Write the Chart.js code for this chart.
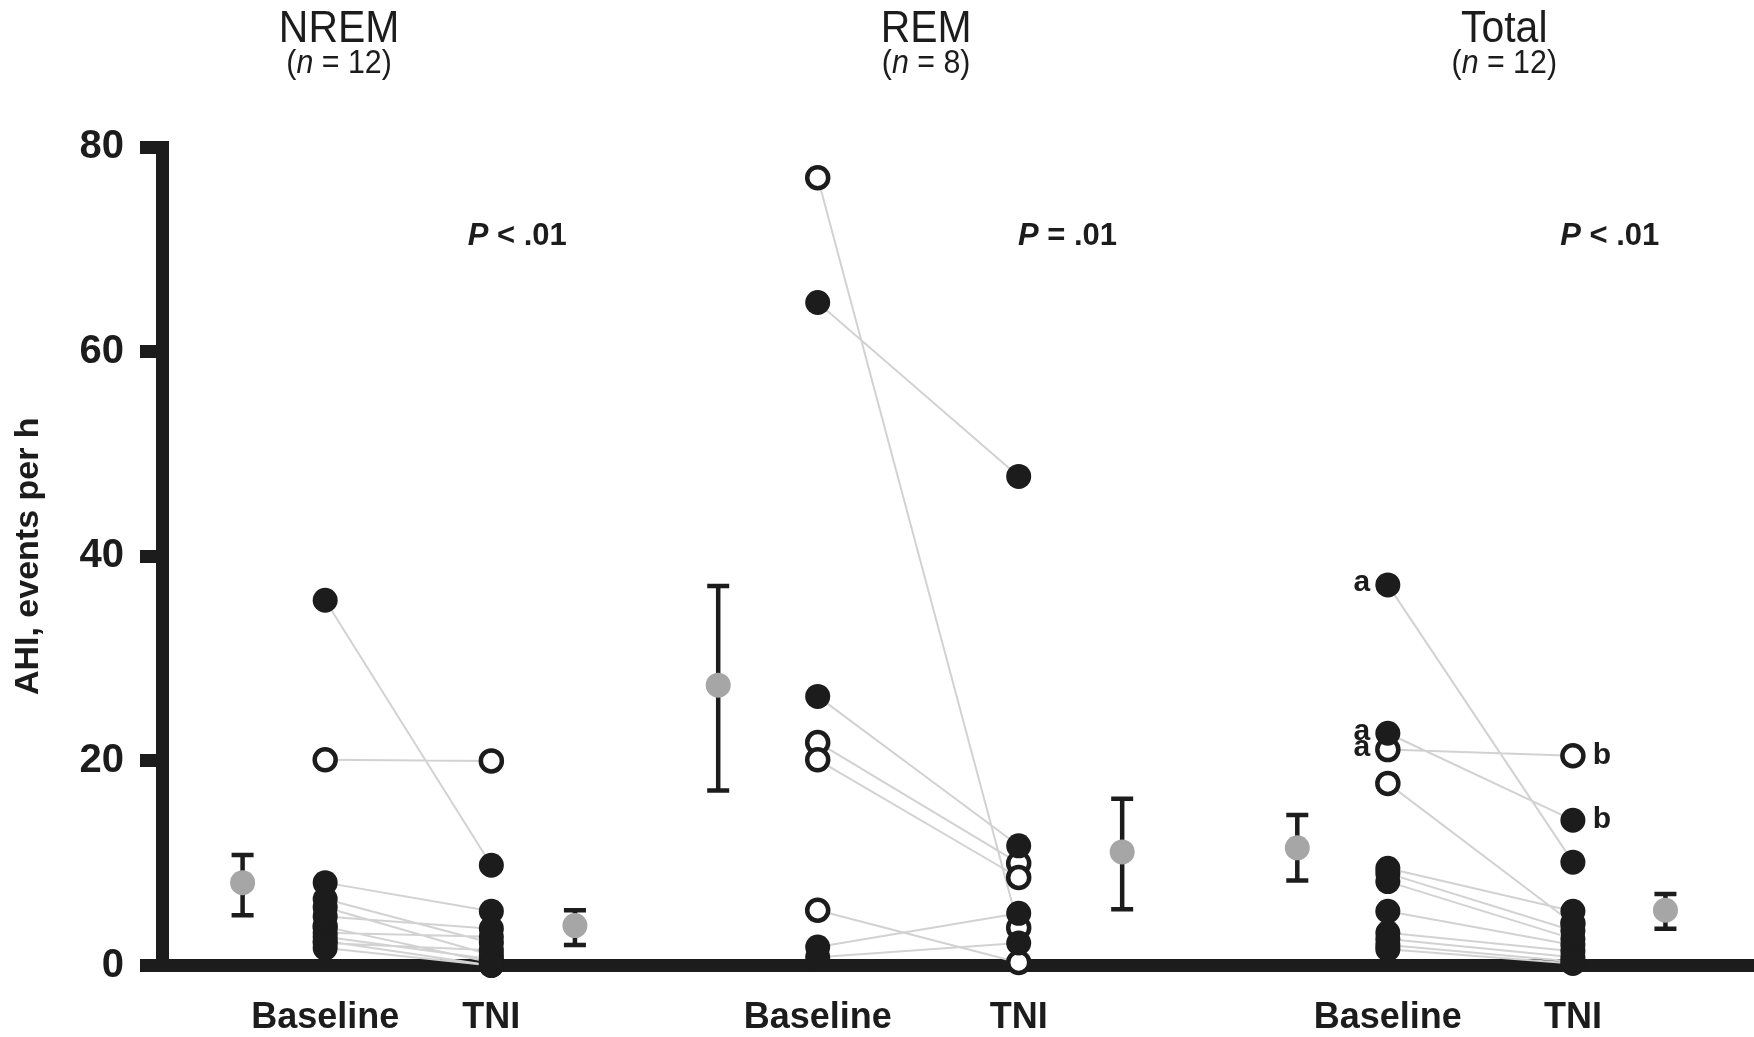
<!DOCTYPE html>
<html>
<head>
<meta charset="utf-8">
<script src="https://cdn.jsdelivr.net/npm/chart.js@4.4.1/dist/chart.umd.min.js"></script>
<style>
  html, body { margin: 0; padding: 0; background: #fff; overflow: hidden; }
  canvas { display: block; }
</style>
</head>
<body>
<canvas id="chart" width="1754" height="1037"></canvas>
<script>
// panels
const panels = ["NREM", "REM", "Total"];
const panelN = ["12", "8", "12"];
const pSign = ["<", "=", "<"];
const pValue = [".01", ".01", ".01"];

// x positions on the (unitless) horizontal axis
const meanBaseX = [0.81, 5.59, 11.41];
const baseX = [1.64, 6.59, 12.32];
const tniX = [3.31, 8.61, 14.18];
const meanTniX = [4.15, 9.65, 15.11];
const titleX = [1.78, 7.68, 13.49];
const pX = [3.57, 9.10, 14.55];
const pY = 71.3;

// individual AHI values (events per h), baseline -> TNI, 1 = open circle
const nremBase = [35.7, 20.1, 8.1, 6.5, 5.7, 4.8, 3.8, 3.2, 2.8, 2.4, 2.2, 1.7];
const nremTni  = [9.8, 20.0, 5.3, 2.2, 1.0, 3.6, 0.3, 2.8, 0.6, 0.0, 1.5, 0.0];
const nremOpen = [0, 1, 0, 0, 0, 0, 1, 0, 0, 0, 0, 0];

const remBase = [77.0, 64.8, 26.3, 21.8, 20.1, 5.4, 1.8, 0.8];
const remTni  = [3.7, 47.8, 11.7, 10.0, 8.6, 0.3, 5.1, 2.2];
const remOpen = [1, 0, 0, 1, 1, 1, 0, 0];

const totalBase = [37.2, 22.7, 21.1, 17.8, 9.5, 9.0, 8.2, 5.3, 3.2, 2.6, 2.0, 1.6];
const totalTni  = [10.1, 14.2, 20.5, 4.1, 5.3, 3.4, 2.6, 2.0, 1.4, 0.8, 0.4, 0.2];
const totalOpen = [0, 0, 1, 1, 0, 0, 0, 0, 0, 0, 0, 0];
const totalBaseTag = ["a", "a", "a", "", "", "", "", "", "", "", "", ""];
const totalTniTag  = ["", "b", "b", "", "", "", "", "", "", "", "", ""];

// group means with error bars
const meanBase = [8.1, 27.4, 11.5];
const meanBaseLo = [4.9, 17.1, 8.3];
const meanBaseHi = [10.8, 37.1, 14.7];
const meanTni = [3.9, 11.1, 5.4];
const meanTniLo = [2.0, 5.5, 3.6];
const meanTniHi = [5.4, 16.3, 7.0];

const yTicks = [0, 20, 40, 60, 80];

const INK = "#1c1c1c";
const FONT = "'Liberation Sans', Arial, sans-serif";

const subjects = [
  [nremBase, nremTni, nremOpen],
  [remBase, remTni, remOpen],
  [totalBase, totalTni, totalOpen]
];

const pairLines = [], openPts = [], filledPts = [];
subjects.forEach(([b, t, o], i) => {
  b.forEach((v, j) => {
    pairLines.push({ x: baseX[i], y: v }, { x: tniX[i], y: t[j] }, { x: tniX[i], y: null });
    const target = o[j] ? openPts : filledPts;
    target.push({ x: baseX[i], y: v }, { x: tniX[i], y: t[j] });
  });
});

const meanPts = [];
panels.forEach((p, i) => {
  meanPts.push({ x: meanBaseX[i], y: meanBase[i] }, { x: meanTniX[i], y: meanTni[i] });
});

const annotate = {
  id: "annotate",
  beforeDatasetsDraw(chart) {
    const { ctx, scales: { x, y } } = chart;
    ctx.save();
    ctx.strokeStyle = INK;
    ctx.lineWidth = 4.5;
    const bar = (xv, lo, hi) => {
      const px = x.getPixelForValue(xv);
      const y1 = y.getPixelForValue(lo), y2 = y.getPixelForValue(hi);
      ctx.beginPath();
      ctx.moveTo(px, y1); ctx.lineTo(px, y2);
      ctx.moveTo(px - 11, y1); ctx.lineTo(px + 11, y1);
      ctx.moveTo(px - 11, y2); ctx.lineTo(px + 11, y2);
      ctx.stroke();
    };
    panels.forEach((p, i) => {
      bar(meanBaseX[i], meanBaseLo[i], meanBaseHi[i]);
      bar(meanTniX[i], meanTniLo[i], meanTniHi[i]);
    });
    ctx.restore();
  },
  afterDraw(chart) {
    const { ctx, scales: { x, y } } = chart;
    ctx.save();
    ctx.fillStyle = INK;
    ctx.textBaseline = "middle";

    panels.forEach((p, i) => {
      const cx = x.getPixelForValue(titleX[i]);
      // panel title, slightly condensed
      ctx.save();
      ctx.translate(cx, 30);
      ctx.scale(0.93, 1);
      ctx.textAlign = "center";
      ctx.font = "44px " + FONT;
      ctx.fillText(p, 0, 0);
      ctx.restore();

      // (n = ..)
      ctx.save();
      ctx.translate(cx, 64);
      ctx.scale(0.92, 1);
      const parts = [["(", "normal"], ["n", "italic"], [" = " + panelN[i] + ")", "normal"]];
      let w = 0;
      parts.forEach(([s, st]) => { ctx.font = st + " 33px " + FONT; w += ctx.measureText(s).width; });
      let sx = -w / 2;
      ctx.textAlign = "left";
      parts.forEach(([s, st]) => {
        ctx.font = st + " 33px " + FONT;
        ctx.fillText(s, sx, 0);
        sx += ctx.measureText(s).width;
      });
      ctx.restore();

      // P value
      const px = x.getPixelForValue(pX[i]);
      const py = y.getPixelForValue(pY);
      const a = "P", b = " " + pSign[i] + " " + pValue[i];
      ctx.font = "italic bold 31px " + FONT;
      const wa = ctx.measureText(a).width;
      ctx.font = "bold 31px " + FONT;
      const wb = ctx.measureText(b).width;
      ctx.textAlign = "left";
      ctx.font = "italic bold 31px " + FONT;
      ctx.fillText(a, px - (wa + wb) / 2, py);
      ctx.font = "bold 31px " + FONT;
      ctx.fillText(b, px - (wa + wb) / 2 + wa, py);
    });

    // a / b markers in the Total panel
    ctx.font = "bold 30px " + FONT;
    ctx.textAlign = "center";
    totalBaseTag.forEach((t, j) => {
      if (t) ctx.fillText(t, x.getPixelForValue(baseX[2]) - 26, y.getPixelForValue(totalBase[j]) - 2);
    });
    totalTniTag.forEach((t, j) => {
      if (t) ctx.fillText(t, x.getPixelForValue(tniX[2]) + 29, y.getPixelForValue(totalTni[j]));
    });
    ctx.restore();
  }
};

const tickPositions = [...baseX, ...tniX].sort((a, b) => a - b);

new Chart(document.getElementById("chart"), {
  type: "scatter",
  data: {
    datasets: [
      {
        label: "pairs", type: "line", data: pairLines, showLine: true, spanGaps: false,
        borderColor: "#d2d2d2", borderWidth: 2, pointRadius: 0, order: 3, clip: false
      },
      {
        label: "mean", data: meanPts, backgroundColor: "#a6a6a6", borderWidth: 0,
        pointRadius: 12.5, order: 2, clip: false
      },
      {
        label: "open", data: openPts, backgroundColor: "#fff", borderColor: INK, borderWidth: 4.5,
        pointRadius: 10.5, order: 1, clip: false
      },
      {
        label: "filled", data: filledPts, backgroundColor: INK, borderWidth: 0,
        pointRadius: 12.5, order: 0, clip: false
      }
    ]
  },
  options: {
    responsive: false,
    devicePixelRatio: 1,
    animation: false,
    layout: { autoPadding: false, padding: { top: 147, left: 0, right: 0, bottom: 0 } },
    plugins: { legend: { display: false }, tooltip: { enabled: false } },
    scales: {
      x: {
        type: "linear", min: 0, max: 16,
        afterFit(s) { s.height = 71.5; s.paddingLeft = 0; s.paddingRight = 0; },
        afterBuildTicks(s) { s.ticks = tickPositions.map(v => ({ value: v })); },
        ticks: {
          autoSkip: false, maxRotation: 0, padding: 31, color: INK,
          font: { family: FONT, size: 36, weight: "bold" },
          callback: v => baseX.includes(v) ? "Baseline" : "TNI"
        },
        grid: { display: true, drawOnChartArea: false, drawTicks: false },
        border: { display: true, width: 13, color: INK }
      },
      y: {
        min: 0, max: 80,
        afterFit(s) { s.width = 162; s.paddingTop = 0; s.paddingBottom = 0; },
        afterBuildTicks(s) { s.ticks = yTicks.map(v => ({ value: v })); },
        ticks: {
          padding: 16, color: INK,
          font: { family: FONT, size: 40, weight: "bold" }
        },
        grid: { drawOnChartArea: false, drawTicks: true, tickLength: 22, lineWidth: 13, color: INK },
        border: { display: true, width: 13, color: INK },
        title: {
          display: true, text: "AHI, events per h", color: INK,
          font: { family: FONT, size: 34, weight: "bold" },
          padding: { top: 8, bottom: 0 }
        }
      }
    }
  },
  plugins: [annotate]
});
</script>
</body>
</html>
